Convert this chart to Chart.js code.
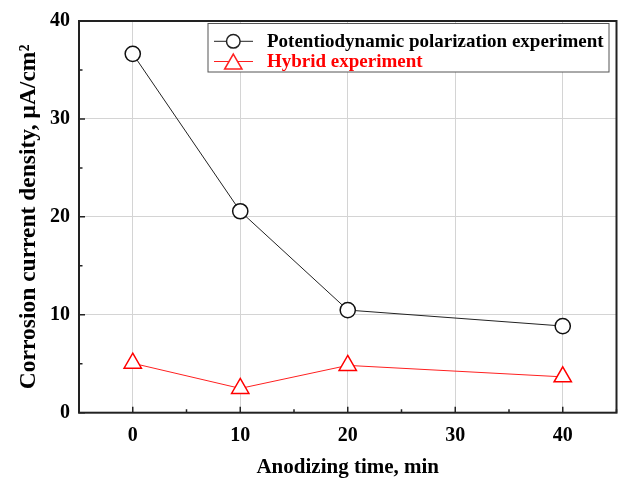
<!DOCTYPE html>
<html>
<head>
<meta charset="utf-8">
<script src="https://cdn.jsdelivr.net/npm/chart.js@4"></script>
<style>
  body { margin: 0; background: #fff; }
  #wrap { width: 618px; height: 480px; }
</style>
</head>
<body>
<div id="wrap"><canvas id="chart" width="618" height="480"></canvas></div>
<script>
// Data
const anodizingTimes = [0, 10, 20, 40];
const potentiodynamic = [36.65, 20.57, 10.48, 8.85];
const hybrid = [5.05, 2.48, 4.83, 3.66];
const xTickValues = [0, 10, 20, 30, 40];
const yTickValues = [0, 10, 20, 30, 40];
const seriesNames = ['Potentiodynamic polarization experiment', 'Hybrid experiment'];

const serif = '"Liberation Serif", "Times New Roman", serif';

function toPoints(values) {
  return anodizingTimes.map((t, i) => ({ x: t, y: values[i] }));
}

// Box around the plot plus inward major/minor ticks on bottom and left axes
const framePlugin = {
  id: 'frame',
  afterDraw(chart) {
    const { ctx, chartArea: a, scales } = chart;
    ctx.save();
    ctx.strokeStyle = '#222';
    ctx.lineWidth = 1.5;
    ctx.beginPath();
    for (let v = -5; v <= 45; v += 5) {
      const px = scales.x.getPixelForValue(v);
      const len = v % 10 === 0 ? 6 : 3.5;
      ctx.moveTo(px, a.bottom);
      ctx.lineTo(px, a.bottom - len);
    }
    for (let v = 0; v <= 40; v += 5) {
      const py = scales.y.getPixelForValue(v);
      const len = v % 10 === 0 ? 6 : 3.5;
      ctx.moveTo(a.left, py);
      ctx.lineTo(a.left + len, py);
    }
    ctx.stroke();
    ctx.lineWidth = 2;
    ctx.strokeRect(a.left, a.top, a.right - a.left, a.bottom - a.top);
    ctx.restore();
  }
};

// Legend drawn inside the plot, top right
const legendBoxPlugin = {
  id: 'legendBox',
  afterDraw(chart) {
    const { ctx } = chart;
    const box = { x: 208, y: 23.5, w: 401, h: 48.5 };
    ctx.save();
    ctx.fillStyle = '#fff';
    ctx.fillRect(box.x, box.y, box.w, box.h);
    ctx.strokeStyle = '#555';
    ctx.lineWidth = 1;
    ctx.strokeRect(box.x, box.y, box.w, box.h);

    const rows = [41.3, 61.5];
    chart.data.datasets.forEach((ds, i) => {
      const y = rows[i];
      ctx.strokeStyle = ds.borderColor;
      ctx.lineWidth = 1;
      ctx.beginPath();
      ctx.moveTo(214, y);
      ctx.lineTo(253, y);
      ctx.stroke();
      ctx.fillStyle = '#fff';
      ctx.lineWidth = 1.5;
      ctx.beginPath();
      if (ds.pointStyle === 'triangle') {
        const r = 10;
        const cy = y + r / 4;
        for (let k = 0; k < 3; k++) {
          const ang = k * 2 * Math.PI / 3;
          const px = 233.3 + Math.sin(ang) * r;
          const py = cy - Math.cos(ang) * r;
          if (k === 0) ctx.moveTo(px, py); else ctx.lineTo(px, py);
        }
        ctx.closePath();
      } else {
        ctx.arc(233.3, y, 6.8, 0, Math.PI * 2);
      }
      ctx.fill();
      ctx.stroke();

      ctx.fillStyle = ds.legendTextColor;
      ctx.font = 'bold 19px ' + serif;
      ctx.textBaseline = 'middle';
      ctx.textAlign = 'left';
      ctx.fillText(ds.label, 267, y + 1);
    });
    ctx.restore();
  }
};

const chart = new Chart(document.getElementById('chart'), {
  type: 'line',
  data: {
    datasets: [
      {
        label: seriesNames[0],
        data: toPoints(potentiodynamic),
        borderColor: '#222',
        borderWidth: 1,
        pointStyle: 'circle',
        pointRadius: 7.6,
        pointBorderWidth: 1.5,
        pointBackgroundColor: '#fff',
        pointBorderColor: '#111',
        legendTextColor: '#000'
      },
      {
        label: seriesNames[1],
        data: toPoints(hybrid),
        borderColor: '#ff2020',
        borderWidth: 1,
        pointStyle: 'triangle',
        pointRadius: 10,
        pointBorderWidth: 1.5,
        pointBackgroundColor: '#fff',
        pointBorderColor: '#ff0000',
        legendTextColor: '#ff0000'
      }
    ]
  },
  options: {
    responsive: false,
    animation: false,
    layout: {
      autoPadding: false,
      padding: { left: 0, right: 1.5, top: 16.4, bottom: 0 }
    },
    plugins: {
      legend: { display: false },
      tooltip: { enabled: false }
    },
    scales: {
      x: {
        type: 'linear',
        min: -5,
        max: 45,
        afterBuildTicks: (scale) => { scale.ticks = xTickValues.map(v => ({ value: v })); },
        afterFit: (scale) => { scale.height = 67.3; },
        grid: { color: '#d4d4d4', lineWidth: 1, drawTicks: false },
        border: { display: false },
        ticks: {
          padding: 11,
          color: '#000',
          font: { family: serif, size: 20, weight: 'bold' }
        },
        title: {
          display: true,
          text: 'Anodizing time, min',
          color: '#000',
          padding: { top: 1, bottom: 0 },
          font: { family: serif, size: 21, weight: 'bold' }
        }
      },
      y: {
        min: 0,
        max: 40,
        afterBuildTicks: (scale) => { scale.ticks = yTickValues.map(v => ({ value: v })); },
        afterFit: (scale) => { scale.width = 79; },
        grid: { color: '#d4d4d4', lineWidth: 1, drawTicks: false },
        border: { display: false },
        ticks: {
          padding: 9,
          color: '#000',
          font: { family: serif, size: 20, weight: 'bold' }
        },
        title: {
          display: true,
          text: 'Corrosion current density, μA/cm²',
          color: '#000',
          padding: { top: 15, bottom: 0 },
          font: { family: serif, size: 23.5, weight: 'bold' }
        }
      }
    }
  },
  plugins: [framePlugin, legendBoxPlugin]
});
</script>
</body>
</html>
